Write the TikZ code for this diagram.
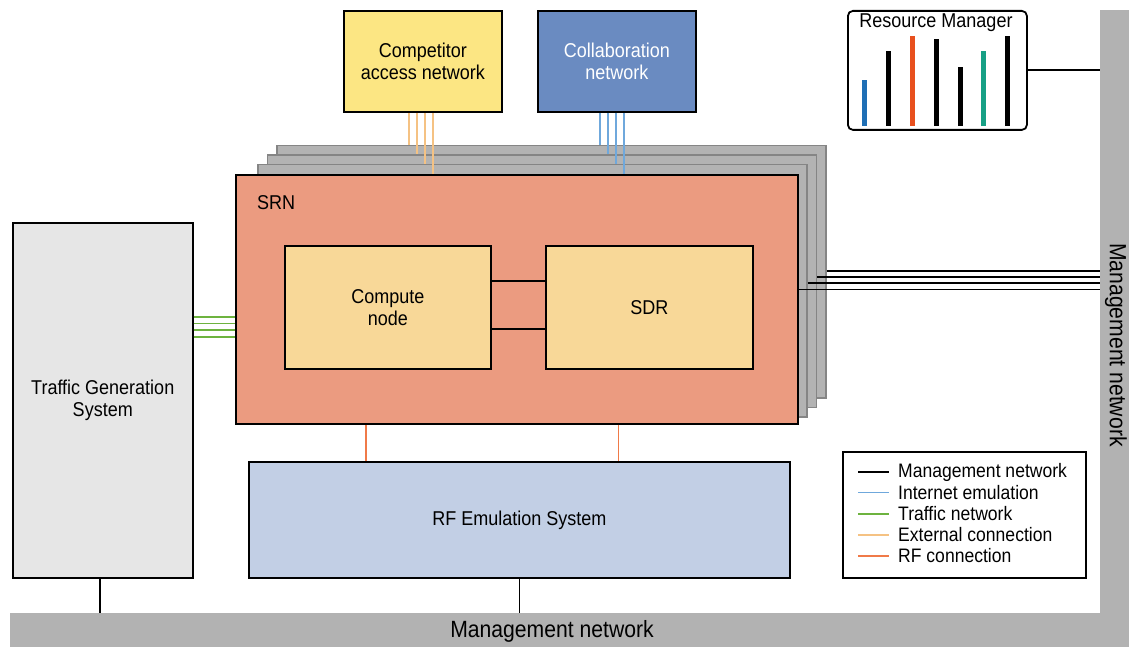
\documentclass[tikz,border=0pt]{standalone}
\usepackage{fontspec}
\setmainfont{Liberation Sans}[FakeStretch=0.9]
\definecolor{compyellow}{HTML}{FCE683}
\definecolor{collabblue}{HTML}{6A8BC1}
\definecolor{srnfill}{HTML}{EB9B80}
\definecolor{innerfill}{HTML}{F8D898}
\definecolor{tgfill}{HTML}{E6E6E6}
\definecolor{rffill}{HTML}{C2CFE5}
\definecolor{barfill}{HTML}{B2B2B2}
\definecolor{stackfill}{HTML}{B3B3B3}
\definecolor{stackline}{HTML}{858585}
\definecolor{extcol}{HTML}{F5C283}
\definecolor{inetcol}{HTML}{6FA8DC}
\definecolor{trafcol}{HTML}{6DB33F}
\definecolor{rfcol}{HTML}{F07A48}
\definecolor{rmblue}{HTML}{1F6FB5}
\definecolor{rmorange}{HTML}{E8501E}
\definecolor{rmgreen}{HTML}{17A085}
\newcommand\diaglbl{\fontsize{20}{22}\selectfont}
\newcommand\diaglegend{\fontsize{19.5}{21}\selectfont}
\newcommand\diagbig{\fontsize{23.5}{26}\selectfont}
\begin{document}
\begin{tikzpicture}[x=1pt,y=-1pt,
  box/.style={draw=black, line width=1.8pt, inner sep=0pt, anchor=north west, align=center, font=\diaglbl},
  graybox/.style={draw=stackline, line width=1.5pt, fill=stackfill, inner sep=0pt, anchor=north west, minimum width=549, minimum height=252},
  barbox/.style={fill=barfill, inner sep=0pt, anchor=north west},
  mgmt/.style={draw=black, line width=1.6pt},
  extl/.style={draw=extcol, line width=1.6pt},
  inetl/.style={draw=inetcol, line width=1.6pt},
  trafl/.style={draw=trafcol, line width=1.6pt},
  rfl/.style={draw=rfcol, line width=1.6pt},
  rmbar/.style={line width=5pt},
  legtext/.style={anchor=west, inner sep=0pt, font=\diaglegend}]
\useasboundingbox (0,0) rectangle (1129,647);

% management network bars
\node[barbox, minimum width=29, minimum height=637] (vbar) at (1100,10) {};
\node[barbox, minimum width=1119, minimum height=34] (hbar) at (10,613) {};
\node[font=\diagbig, inner sep=0pt] (hbarlbl) at (552,631) {Management network};
\node[font=\diagbig, inner sep=0pt, rotate=-90] (vbarlbl) at (1116,345) {Management network};

% top boxes
\node[box, fill=compyellow, minimum width=158, minimum height=101] (comp) at (343,10) {Competitor\\access network};
\node[box, fill=collabblue, text=white, minimum width=158, minimum height=101] (collab) at (537,10) {Collaboration\\network};

% resource manager
\node[box, rounded corners=5pt, fill=white, minimum width=179, minimum height=119] (rm) at (847,10) {};
\node[font=\diaglbl, inner sep=0pt] (rmtitle) at (936,23) {Resource Manager};
\draw[rmbar, rmblue] (864.3,125.7) -- (864.3,80);
\draw[rmbar, black] (888.3,125.7) -- (888.3,51);
\draw[rmbar, rmorange] (912,125.7) -- (912,36);
\draw[rmbar, black] (936,125.7) -- (936,39);
\draw[rmbar, black] (960,125.7) -- (960,67);
\draw[rmbar, rmgreen] (983.7,125.7) -- (983.7,51);
\draw[rmbar, black] (1007.7,125.7) -- (1007.7,36);
\coordinate (rmy) at (0,70);
\draw[mgmt] (rm.east |- rmy) -- (vbar.west |- rmy);

% SRN stack
\node[graybox] (g3) at (276,145) {};
\node[graybox] (g2) at (266.5,154.5) {};
\node[graybox] (g1) at (257,164) {};
\node[box, fill=srnfill, minimum width=562, minimum height=249] (srn) at (235,174) {};
\node[font=\diaglbl, anchor=west, inner sep=0pt] (srnlbl) at (257,203) {SRN};
\node[box, fill=innerfill, minimum width=206, minimum height=123] (cn) at (284,245) {Compute\\node};
\node[box, fill=innerfill, minimum width=207, minimum height=123] (sdr) at (545,245) {SDR};
\coordinate (cs1) at (0,281);
\coordinate (cs2) at (0,329);
\draw[mgmt] (cn.east |- cs1) -- (sdr.west |- cs1);
\draw[mgmt] (cn.east |- cs2) -- (sdr.west |- cs2);

% external connections
\draw[extl] ([xshift=66]comp.south west) -- ([xshift=66]comp.south west |- g3.north);
\draw[extl] ([xshift=74]comp.south west) -- ([xshift=74]comp.south west |- g2.north);
\draw[extl] ([xshift=82]comp.south west) -- ([xshift=82]comp.south west |- g1.north);
\draw[extl] ([xshift=90]comp.south west) -- ([xshift=90]comp.south west |- srn.north);
% internet emulation
\draw[inetl] ([xshift=63]collab.south west) -- ([xshift=63]collab.south west |- g3.north);
\draw[inetl] ([xshift=71]collab.south west) -- ([xshift=71]collab.south west |- g2.north);
\draw[inetl] ([xshift=79]collab.south west) -- ([xshift=79]collab.south west |- g1.north);
\draw[inetl] ([xshift=87]collab.south west) -- ([xshift=87]collab.south west |- srn.north);

% management lines from SRNs
\coordinate (m3) at (0,271);
\coordinate (m2) at (0,277);
\coordinate (m1) at (0,283);
\coordinate (m0) at (0,289.3);
\draw[mgmt] (g3.east |- m3) -- (vbar.west |- m3);
\draw[mgmt] (g2.east |- m2) -- (vbar.west |- m2);
\draw[mgmt] (g1.east |- m1) -- (vbar.west |- m1);
\draw[mgmt] (srn.east |- m0) -- (vbar.west |- m0);

% traffic generation
\node[box, line width=1.5pt, fill=tgfill, minimum width=180, minimum height=355] (tg) at (12,222) {Traffic Generation\\System};
\coordinate (t1) at (0,316.7);
\coordinate (t2) at (0,323.3);
\coordinate (t3) at (0,330);
\coordinate (t4) at (0,336.7);
\draw[trafl] (tg.east |- t1) -- (srn.west |- t1);
\draw[trafl] (tg.east |- t2) -- (srn.west |- t2);
\draw[trafl] (tg.east |- t3) -- (srn.west |- t3);
\draw[trafl] (tg.east |- t4) -- (srn.west |- t4);
\coordinate (tgx) at (100,0);
\draw[mgmt, line width=1.3pt] (tg.south -| tgx) -- (hbar.north -| tgx);

% RF emulation
\node[box, fill=rffill, minimum width=541, minimum height=116] (rf) at (248,461) {RF Emulation System};
\coordinate (r1) at (365.7,0);
\coordinate (r2) at (618.3,0);
\draw[rfl] (srn.south -| r1) -- (rf.north -| r1);
\draw[rfl] (srn.south -| r2) -- (rf.north -| r2);
\draw[mgmt, line width=1.3pt] (rf.south) -- (rf.south |- hbar.north);

% legend
\node[box, fill=white, minimum width=243, minimum height=126] (leg) at (842,451) {};
\coordinate (la) at (858,0);
\coordinate (lb) at (889,0);
\coordinate (ly1) at (0,472);
\coordinate (ly2) at (0,492.5);
\coordinate (ly3) at (0,513.7);
\coordinate (ly4) at (0,535);
\coordinate (ly5) at (0,556);
\draw[mgmt] (la |- ly1) -- (lb |- ly1);
\draw[inetl] (la |- ly2) -- (lb |- ly2);
\draw[trafl] (la |- ly3) -- (lb |- ly3);
\draw[extl] (la |- ly4) -- (lb |- ly4);
\draw[rfl] (la |- ly5) -- (lb |- ly5);
\node[legtext] (lt1) at (898,472) {Management network};
\node[legtext] (lt2) at (898,492.5) {Internet emulation};
\node[legtext] (lt3) at (898,513.7) {Traffic network};
\node[legtext] (lt4) at (898,535) {External connection};
\node[legtext] (lt5) at (898,556) {RF connection};
\end{tikzpicture}
\end{document}
